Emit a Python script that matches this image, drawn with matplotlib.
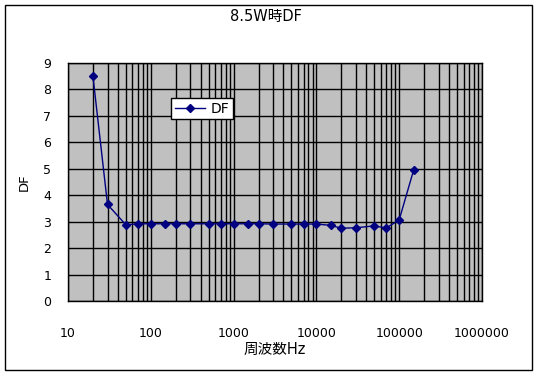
import matplotlib
matplotlib.use("Agg")
import matplotlib.pyplot as plt
from matplotlib.patches import Rectangle
from matplotlib.ticker import FixedLocator, FixedFormatter, LogLocator, NullFormatter

plt.rcParams['font.family'] = ['DejaVu Sans', 'Noto Sans CJK JP']

# data
freq = [20, 30, 50, 70, 100, 150, 200, 300, 500, 700, 1000, 1500, 2000,
        3000, 5000, 7000, 10000, 15000, 20000, 30000, 50000, 70000, 100000, 150000]
df = [8.5, 3.65, 2.88, 2.92, 2.92, 2.92, 2.92, 2.92, 2.92, 2.92, 2.92, 2.92, 2.92,
      2.91, 2.91, 2.91, 2.91, 2.86, 2.75, 2.77, 2.84, 2.76, 3.07, 4.97]
x_ticks = [10, 100, 1000, 10000, 100000, 1000000]
x_tick_labels = ["10", "100", "1000", "10000", "100000", "1000000"]
y_ticks = list(range(0, 10))

title = "8.5W時DF"
xlabel = "周波数Hz"
ylabel = "DF"
series_name = "DF"

W, H = 536, 372
fig = plt.figure(figsize=(W / 100, H / 100), dpi=100)
ax = fig.add_axes([68 / W, 1 - 301 / H, (482 - 68) / W, (301 - 63) / H])

# outer chart border
fig.patches.append(Rectangle((5 / W, 1 - 370 / H), 527 / W, 365 / H,
                             transform=fig.transFigure, fill=False,
                             edgecolor='black', linewidth=1.0))

ax.set_facecolor('#C0C0C0')
ax.set_xscale('log')
ax.set_xlim(10, 1000000)
ax.set_ylim(0, 9)

ax.xaxis.set_major_locator(FixedLocator(x_ticks))
ax.xaxis.set_major_formatter(FixedFormatter(x_tick_labels))
ax.xaxis.set_minor_locator(LogLocator(base=10, subs=range(2, 10), numticks=20))
ax.xaxis.set_minor_formatter(NullFormatter())
ax.set_yticks(y_ticks)

ax.grid(True, which='major', axis='both', color='black', linewidth=1.0)
ax.grid(True, which='minor', axis='x', color='black', linewidth=1.0)
ax.set_axisbelow(True)

ax.tick_params(axis='both', which='both', length=0, labelsize=9)
ax.tick_params(axis='x', pad=19)
ax.tick_params(axis='y', pad=12)

for s in ax.spines.values():
    s.set_color('black')
    s.set_linewidth(1.0)

ax.plot(freq, df, color='#000080', linewidth=1.0, marker='D', markersize=4,
        markerfacecolor='#000080', markeredgecolor='#000080', label=series_name,
        clip_on=False, zorder=3)

leg = ax.legend(loc='upper left', bbox_to_anchor=(0.249, 0.852), fontsize=10,
                frameon=True, fancybox=False, framealpha=1, edgecolor='black',
                handlelength=2.2, handletextpad=0.4, borderpad=0.25,
                borderaxespad=0)
leg.get_frame().set_linewidth(1.0)

fig.text(266 / W, 1 - 17 / H, title, ha='center', va='center', fontsize=10.5)
ax.set_xlabel(xlabel, fontsize=10.5, labelpad=1)
ax.set_ylabel(ylabel, fontsize=9.5, labelpad=9)

fig.savefig("out.png", dpi=100)
